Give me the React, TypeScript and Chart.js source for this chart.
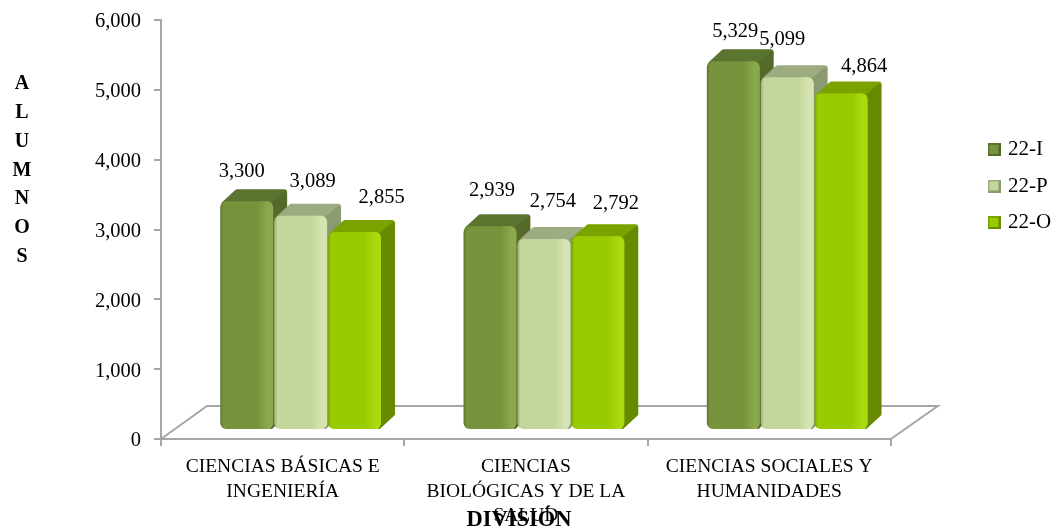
import React, { useEffect, useRef } from "react";
import { Chart, registerables } from "chart.js";

Chart.register(...registerables);

const categories = [
  ["CIENCIAS BÁSICAS E", "INGENIERÍA"],
  ["CIENCIAS", "BIOLÓGICAS Y DE LA", "SALUD"],
  ["CIENCIAS SOCIALES Y", "HUMANIDADES"],
];
const serie22I = [3300, 2939, 5329];
const serie22P = [3089, 2754, 5099];
const serie22O = [2855, 2792, 4864];
const seriesNames = ["22-I", "22-P", "22-O"];
const yTitleLetters = ["A", "L", "U", "M", "N", "O", "S"];
const xTitle = "DIVISIÓN";

const FONT = "'Liberation Serif', serif";
const AXIS = "#a6a6a6";
const SHIFT_X = 18;
const DEPTH_X = 14;
const DEPTH_Y = 12;

const palette = [
  { front: "#77933c", hi: "#8aa84c", top: "#5b7530", side: "#54692a" },
  { front: "#c3d69b", hi: "#d6e4b2", top: "#9dab80", side: "#8b9a70" },
  { front: "#99cc00", hi: "#aada10", top: "#7ba300", side: "#668a00" },
];

// hand placement of each value label relative to its bar's top centre
const labelNudge = [
  [[-5, -30], [2, -36], [2, -30]],
  [[12, -34], [9, -37], [-5, -38]],
  [[27, -34], [18, -33], [23, -27]],
];

function legendIcon(c: { front: string; hi: string; top: string; side: string }) {
  const cv = document.createElement("canvas");
  cv.width = 13;
  cv.height = 13;
  const g = cv.getContext("2d")!;
  g.fillStyle = c.top;
  g.fillRect(0, 0, 13, 13);
  g.fillStyle = c.side;
  g.beginPath();
  g.moveTo(13, 0);
  g.lineTo(13, 13);
  g.lineTo(0, 13);
  g.fill();
  g.fillStyle = c.front;
  g.fillRect(2, 2, 9, 9);
  return cv;
}

const bars3d = {
  id: "bars3d",
  beforeDatasetDraw() {
    return false;
  },
  afterLayout(chart: any) {
    const l = chart.legend;
    if (l) {
      l.left = 975;
      l.right = 1056;
      l.top = 62;
      l.bottom = 310;
    }
  },
  beforeDatasetsDraw(chart: any) {
    const { ctx, chartArea: a } = chart;
    ctx.save();
    ctx.strokeStyle = AXIS;
    ctx.lineWidth = 2;
    ctx.beginPath();
    ctx.moveTo(a.left, a.bottom);
    ctx.lineTo(a.left + 46, a.bottom - 33);
    ctx.lineTo(a.right + 47, a.bottom - 33);
    ctx.lineTo(a.right, a.bottom);
    ctx.stroke();
    ctx.restore();
  },
  afterDatasetsDraw(chart: any) {
    const { ctx } = chart;
    ctx.save();
    ctx.translate(SHIFT_X, 0);
    chart.data.datasets.forEach((_: any, d: number) => {
      const c = palette[d];
      chart.getDatasetMeta(d).data.forEach((el: any) => {
        const { x, y, base, width } = el.getProps(["x", "y", "base", "width"], true);
        const l = x - width / 2;
        const r = x + width / 2;
        ctx.lineJoin = "round";
        ctx.lineWidth = 6;
        // top face
        ctx.fillStyle = ctx.strokeStyle = c.top;
        ctx.beginPath();
        ctx.moveTo(l + 4, y + 3);
        ctx.lineTo(l + DEPTH_X + 3, y - DEPTH_Y + 3);
        ctx.lineTo(r + DEPTH_X - 3, y - DEPTH_Y + 3);
        ctx.lineTo(r - 3, y + 3);
        ctx.closePath();
        ctx.fill();
        ctx.stroke();
        // side face
        ctx.lineWidth = 4;
        ctx.fillStyle = ctx.strokeStyle = c.side;
        ctx.beginPath();
        ctx.moveTo(r - 2, y + 4);
        ctx.lineTo(r + DEPTH_X - 2, y - DEPTH_Y + 4);
        ctx.lineTo(r + DEPTH_X - 2, base - DEPTH_Y - 3);
        ctx.lineTo(r - 2, base - 2);
        ctx.closePath();
        ctx.fill();
        ctx.stroke();
        // front face, by the library's own bar element
        el.draw(ctx);
        // bevel sheen over the front face
        const sheen = ctx.createLinearGradient(l, 0, r, 0);
        sheen.addColorStop(0, "rgba(0,0,0,0.2)");
        sheen.addColorStop(0.06, "rgba(0,0,0,0)");
        sheen.addColorStop(0.7, c.hi + "00");
        sheen.addColorStop(0.9, c.hi);
        sheen.addColorStop(1, c.hi);
        ctx.fillStyle = sheen;
        ctx.beginPath();
        ctx.roundRect(l, y, width, base - y, 6);
        ctx.fill();
      });
    });
    ctx.restore();

    // value labels
    ctx.save();
    ctx.fillStyle = "#000";
    ctx.font = `20.5px ${FONT}`;
    ctx.textAlign = "center";
    ctx.textBaseline = "middle";
    chart.data.datasets.forEach((ds: any, d: number) => {
      chart.getDatasetMeta(d).data.forEach((el: any, i: number) => {
        const [nx, ny] = labelNudge[d][i];
        ctx.fillText(ds.data[i].toLocaleString("en-US"), el.x + SHIFT_X + nx, el.y + ny);
      });
    });
    // stacked y title and axis title
    ctx.font = `bold 20px ${FONT}`;
    yTitleLetters.forEach((t, i) => ctx.fillText(t, 22, 84 + i * 28.8));
    ctx.font = `bold 22.5px ${FONT}`;
    ctx.fillText(xTitle, 519, 520);
    ctx.restore();
  },
};

export default function App() {
  const ref = useRef<HTMLCanvasElement>(null);
  useEffect(() => {
    const icons = palette.map((c) => legendIcon(c));
    const chart = new Chart(ref.current!, {
      type: "bar",
      data: {
        labels: categories,
        datasets: [serie22I, serie22P, serie22O].map((data, i) => ({
          label: seriesNames[i],
          data,
          yAxisID: "y2",
          backgroundColor: palette[i].front,
          borderRadius: 6,
          borderSkipped: false,
          barPercentage: 0.98,
          categoryPercentage: 0.665,
        })),
      } as any,
      options: {
        animation: false,
        responsive: false,
        layout: { padding: { top: 20, left: 0, right: 0, bottom: 0 } },
        plugins: {
          tooltip: { enabled: false },
          legend: {
            position: "right",
            labels: {
              font: { family: FONT, size: 21 },
              color: "#000",
              usePointStyle: true,
              boxWidth: 7,
              boxHeight: 13,
              padding: 15.5,
              generateLabels: (c: any) =>
                Chart.defaults.plugins.legend.labels
                  .generateLabels(c)
                  .map((it: any, i: number) => ({ ...it, pointStyle: icons[i] })),
            },
          },
        },
        scales: {
          x: {
            position: "bottom",
            grid: { drawOnChartArea: false, color: AXIS, lineWidth: 2, tickLength: 7, offset: true },
            border: { color: AXIS, width: 2 },
            ticks: {
              color: "#000",
              font: { family: FONT, size: 19.5, lineHeight: 1.25 },
              padding: 9,
              maxRotation: 0,
              minRotation: 0,
              autoSkip: false,
            },
            afterFit: (s: any) => {
              s.height = 92;
            },
          },
          y: {
            position: "left",
            min: 0,
            max: 6000,
            grid: { drawOnChartArea: false, color: AXIS, lineWidth: 2, tickLength: 7 },
            border: { color: AXIS, width: 2 },
            ticks: {
              stepSize: 1000,
              color: "#000",
              font: { family: FONT, size: 20.5 },
              padding: 13,
              labelOffset: 2,
              callback: (v: any) => Number(v).toLocaleString("en-US"),
            },
            afterFit: (s: any) => {
              s.width = 161;
              s.paddingTop = 0;
              s.paddingBottom = 0;
            },
          },
          y2: {
            position: "right",
            min: -145,
            max: 5928,
            grid: { display: false },
            border: { display: false },
            ticks: { display: false },
            afterFit: (s: any) => {
              s.width = 79;
            },
          },
        },
      },
      plugins: [bars3d],
    } as any);
    return () => chart.destroy();
  }, []);
  return (
    <div style={{ position: "fixed", left: 0, top: 0, width: 1056, height: 531, background: "#fff" }}>
      <canvas ref={ref} width={1056} height={531} style={{ display: "block" }} />
    </div>
  );
}
